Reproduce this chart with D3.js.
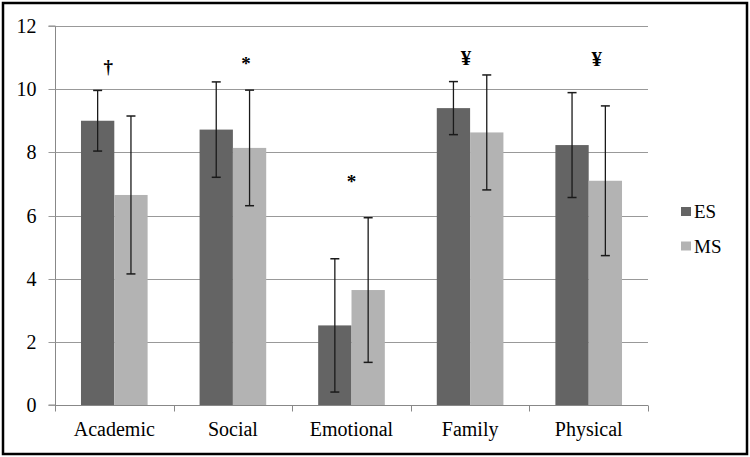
<!DOCTYPE html>
<html><head><meta charset="utf-8">
<script src="https://cdn.jsdelivr.net/npm/d3@7"></script>
<style>
html,body{margin:0;padding:0;background:#fff;}
svg{display:block;}
</style></head>
<body>
<svg id="chart" width="750" height="457"></svg>
<script>
const categories = ["Academic","Social","Emotional","Family","Physical"];
const seriesNames = ["ES","MS"];
const esMeans = [9.0, 8.72, 2.52, 9.4, 8.23];
const esErr   = [0.96, 1.51, 2.11, 0.84, 1.66];
const msMeans = [6.65, 8.14, 3.64, 8.63, 7.1];
const msErr   = [2.5, 1.83, 2.29, 1.82, 2.37];
const annotations = ["†","*","*","¥","¥"];
const annotationY = [10.73, 10.83, 7.09, 11.0, 10.97];
const annotationDx = [-6, 13, 0, -4, 8];
const annotationSize = [19, 19, 19, 21, 21];
const yTicks = [0,2,4,6,8,10,12];
const colors = {ES:"#646464", MS:"#b3b3b3"};
const FONT = "'Liberation Serif', 'Times New Roman', Tinos, Times, serif";

const svg = d3.select("#chart");
const plot = {left:55, right:648, top:26, bottom:405};

svg.append("rect").attr("x",3).attr("y",3).attr("width",744).attr("height",451)
  .attr("fill","none").attr("stroke","#000").attr("stroke-width",2.5);

const y = d3.scaleLinear().domain([0,12]).range([plot.bottom, plot.top]);
const x0 = d3.scaleBand().domain(categories).range([plot.left, plot.right]).paddingInner(0).paddingOuter(0);
const x1 = d3.scaleBand().domain(seriesNames).range([0, x0.bandwidth()]).paddingInner(0).paddingOuter(0.78);

svg.append("g").selectAll("line").data(yTicks.filter(d=>d>0)).join("line")
  .attr("x1", plot.left).attr("x2", plot.right)
  .attr("y1", d=>Math.round(y(d))+0.5).attr("y2", d=>Math.round(y(d))+0.5)
  .attr("stroke","#999").attr("stroke-width",1);

const yAxis = d3.axisLeft(y).tickValues(yTicks).tickSize(7).tickPadding(10).tickFormat(d3.format("d"));
const gy = svg.append("g").attr("transform",`translate(${plot.left+0.5},0)`).call(yAxis);
gy.attr("font-family",null).attr("font-size",null);
gy.select(".domain").attr("stroke","#888").attr("d", `M-7,${y(12)}H0V${y(0)}H-7`);
gy.selectAll(".tick line").attr("stroke","#999");
gy.selectAll(".tick text").style("font-family",FONT).style("font-size","20px").attr("fill","#000").attr("dx",-2);
gy.selectAll(".tick").attr("transform", d=>`translate(0,${Math.round(y(d))+0.5})`);

const data = categories.map((c,i)=>({cat:c, vals:[
  {s:"ES", v:esMeans[i], e:esErr[i]},
  {s:"MS", v:msMeans[i], e:msErr[i]}]}));

const groups = svg.append("g").selectAll("g").data(data).join("g")
  .attr("transform", d=>`translate(${x0(d.cat)},0)`);
groups.selectAll("rect").data(d=>d.vals).join("rect")
  .attr("x", d=>x1(d.s)).attr("width", x1.bandwidth())
  .attr("y", d=>y(d.v)).attr("height", d=>y(0)-y(d.v))
  .attr("fill", d=>colors[d.s]);

const xAxis = d3.axisBottom(x0).tickSize(0).tickPadding(16);
const gx = svg.append("g").attr("transform",`translate(0,${plot.bottom+0.5})`).call(xAxis);
gx.attr("font-family",null).attr("font-size",null);
gx.select(".domain").attr("stroke","#888").attr("d",`M${plot.left},0H${plot.right}`);
gx.selectAll(".tick text").style("font-family",FONT).style("font-size","20px").attr("fill","#000");
const bounds = categories.map(c=>x0(c)).concat([plot.right]);
gx.append("g").selectAll("line").data(bounds).join("line")
  .attr("x1", d=>Math.round(d)+0.5).attr("x2", d=>Math.round(d)+0.5)
  .attr("y1",0).attr("y2",6).attr("stroke","#888");

const eb = groups.selectAll("g.err").data(d=>d.vals).join("g").attr("class","err");
const cx = d=>x1(d.s)+x1.bandwidth()/2;
eb.append("line").attr("x1",cx).attr("x2",cx)
  .attr("y1",d=>y(d.v+d.e)).attr("y2",d=>y(d.v-d.e)).attr("stroke","#1a1a1a").attr("stroke-width",1.3);
eb.append("line").attr("x1",d=>cx(d)-4.5).attr("x2",d=>cx(d)+4.5)
  .attr("y1",d=>y(d.v+d.e)).attr("y2",d=>y(d.v+d.e)).attr("stroke","#1a1a1a").attr("stroke-width",1.5);
eb.append("line").attr("x1",d=>cx(d)-4.5).attr("x2",d=>cx(d)+4.5)
  .attr("y1",d=>y(d.v-d.e)).attr("y2",d=>y(d.v-d.e)).attr("stroke","#1a1a1a").attr("stroke-width",1.5);

svg.append("g").selectAll("text").data(categories).join("text")
  .attr("x",(c,i)=>x0(c)+x0.bandwidth()/2+annotationDx[i])
  .attr("y",(c,i)=>y(annotationY[i]))
  .attr("dy","0.35em")
  .attr("text-anchor","middle")
  .style("font-family",FONT).style("font-size",(c,i)=>annotationSize[i]+"px").style("font-weight","bold")
  .text((c,i)=>annotations[i]);

const lg = svg.append("g").selectAll("g").data(seriesNames).join("g")
  .attr("transform",(d,i)=>`translate(681,${207+i*34.5})`);
lg.append("rect").attr("width",10).attr("height",9).attr("fill",d=>colors[d]);
lg.append("text").attr("x",13).attr("y",11).style("font-family",FONT).style("font-size","19px").text(d=>d);
</script>
</body></html>
